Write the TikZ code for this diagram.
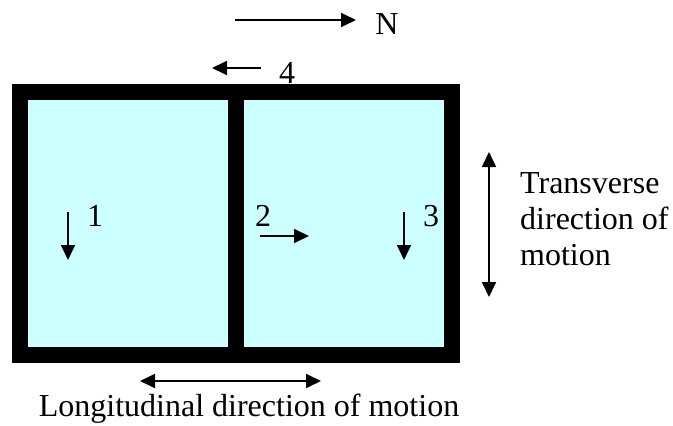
\documentclass[tikz,border=0pt]{standalone}
\usepackage{fontspec}
\setmainfont{Liberation Serif}
\usetikzlibrary{arrows.meta,positioning}
\definecolor{panecyan}{HTML}{CCFFFF}
\tikzset{
  frame/.style={fill=black, draw=none, inner sep=0pt, anchor=north west},
  pane/.style={fill=panecyan, draw=none, inner sep=0pt, anchor=north west},
  motion/.style={-{Triangle[length=15pt,width=14pt]}, line width=1.8pt},
  twoway/.style={{Triangle[length=15pt,width=14pt]}-{Triangle[length=15pt,width=14pt]}, line width=1.8pt},
  tag/.style={inner sep=0pt, font=\fontsize{32}{36}\selectfont}
}

\begin{document}
\begin{tikzpicture}[x=1pt, y=-1pt]
  \useasboundingbox (0,0) rectangle (673,426);

  \node[frame, minimum width=448pt, minimum height=279pt] (box) at (12,84) {};
  \node[pane, minimum width=200pt, minimum height=247pt] (west) at (28,100) {};
  \node[pane, minimum width=200pt, minimum height=247pt] (east) at (244,100) {};

  \node[tag] (north) at (387,24) {N};
  \coordinate (n0) at (235,20);
  \coordinate (n1) at (356,20);
  \draw[motion] (n0) -- (n1);

  \node[tag] (four) at (287,73) {4};
  \coordinate (f0) at (261,68);
  \coordinate (f1) at (212,68);
  \draw[motion] (f0) -- (f1);

  \node[tag] (one) at (95,216) {1};
  \coordinate (a0) at (68,212);
  \coordinate (a1) at (68,260);
  \draw[motion] (a0) -- (a1);

  \node[tag] (two) at (263,216) {2};
  \coordinate (b0) at (260,236);
  \coordinate (b1) at (309,236);
  \draw[motion] (b0) -- (b1);

  \node[tag] (three) at (431,216) {3};
  \coordinate (c0) at (404,212);
  \coordinate (c1) at (404,260);
  \draw[motion] (c0) -- (c1);

  \coordinate (t0) at (489,152);
  \coordinate (t1) at (489,297);
  \draw[twoway] (t0) -- (t1);
  \node[tag, align=left, anchor=north west] (trans) at (520,172) {Transverse\\direction of\\motion};

  \coordinate (l0) at (140,381);
  \coordinate (l1) at (321,381);
  \draw[twoway] (l0) -- (l1);
  \node[tag, anchor=base] (longi) at (249,416) {Longitudinal direction of motion};
\end{tikzpicture}
\end{document}
